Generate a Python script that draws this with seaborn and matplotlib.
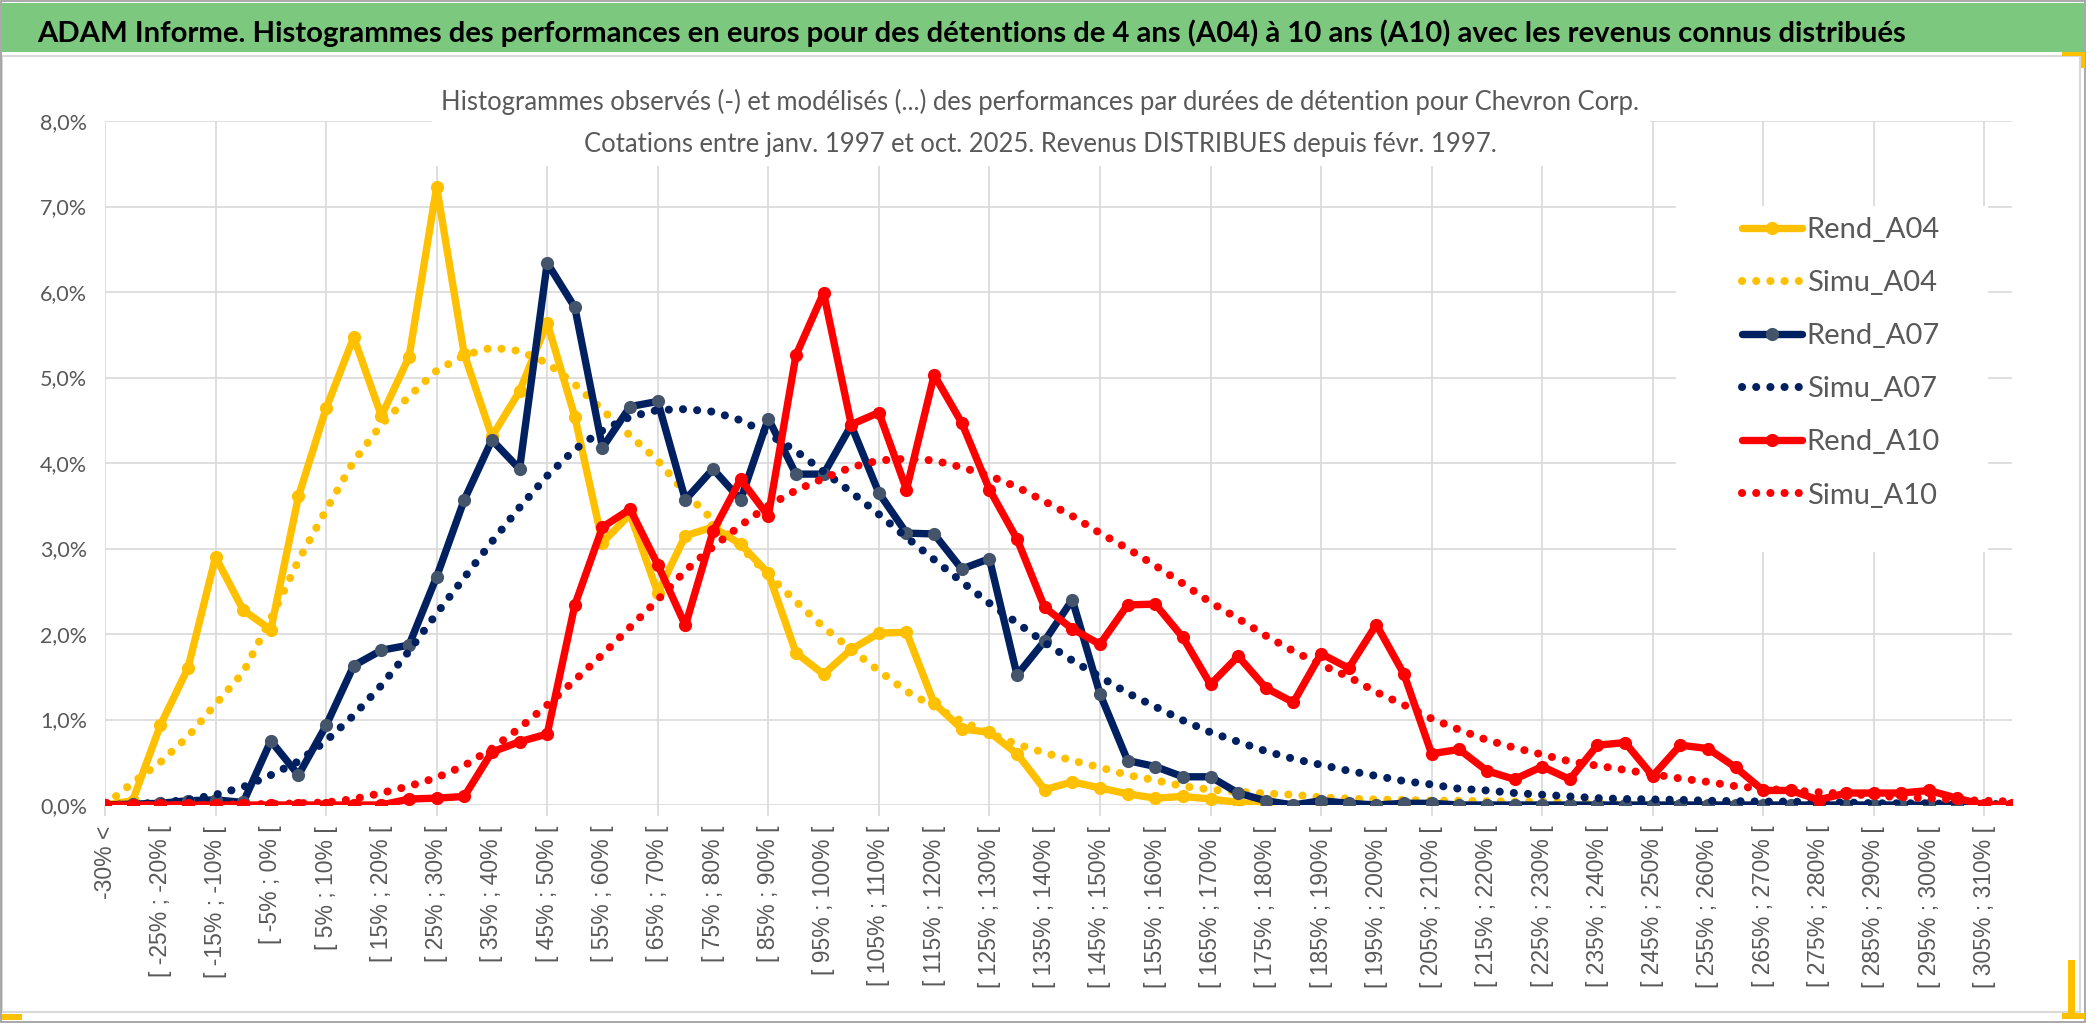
import numpy as np
import pandas as pd
import seaborn as sns
import matplotlib.pyplot as plt
from matplotlib import font_manager
from matplotlib.patches import Rectangle
from matplotlib.ticker import FuncFormatter

W, H = 2086, 1033
NAN = np.nan

# classes of performance (5% wide), first and last are open classes
lower_bounds = list(range(-30, 310, 5))
categories = ['-30% <'] + [f'[ {a}% ; {a + 5}% [' for a in lower_bounds] + ['> 310%']

rend_a04 = [0.0, 0.05, 0.93, 1.60, 2.90, 2.28, 2.05, 3.61, 4.64, 5.47,
            4.55, 5.24, 7.23, 5.27, 4.31, 4.84, 5.64, 4.54, 3.07, 3.40,
            2.48, 3.15, 3.25, 3.05, 2.71, 1.78, 1.53, 1.82, 2.01, 2.02,
            1.19, 0.89, 0.85, 0.60, 0.18, 0.27, 0.20, 0.13, 0.08, 0.10,
            0.07, 0.03, 0.0, 0.0, 0.0, 0.0, 0.0, 0.0, 0.0]
simu_a04 = [0.0, 0.26, 0.50, 0.80, 1.18, 1.55, 2.18, 2.86, 3.45, 4.02,
            4.45, 4.78, 5.08, 5.26, 5.35, 5.31, 5.17, 4.92, 4.62, 4.32,
            4.03, 3.65, 3.33, 3.02, 2.69, 2.38, 2.08, 1.82, 1.57, 1.33,
            1.15, 0.98, 0.84, 0.71, 0.61, 0.52, 0.44, 0.35, 0.29, 0.22,
            0.18, 0.155, 0.135, 0.12, 0.09, 0.075, 0.065, 0.06, 0.05, 0.05,
            0.045, 0.04, 0.04, 0.035, 0.03, 0.03, 0.025, 0.02, 0.02, 0.02,
            0.015, 0.015, 0.01, 0.01, 0.01, 0.01, 0.01, 0.01, 0.01, 0.01]
rend_a07 = [0.0, 0.01, 0.02, 0.05, 0.06, 0.03, 0.75, 0.35, 0.93, 1.63,
            1.81, 1.87, 2.67, 3.57, 4.27, 3.93, 6.34, 5.82, 4.18, 4.66,
            4.72, 3.57, 3.93, 3.57, 4.52, 3.87, 3.87, 4.44, 3.65, 3.18,
            3.17, 2.76, 2.88, 1.52, 1.92, 2.40, 1.30, 0.52, 0.45, 0.33,
            0.33, 0.14, 0.05, 0.0, 0.05, 0.02, 0.0, 0.02, 0.02, 0.0,
            0.0, 0.0, 0.0, 0.0, 0.0, 0.0, 0.0, 0.0, 0.0, 0.0,
            0.0, 0.0, 0.0, 0.0, 0.0, 0.0, 0.0, 0.0]
simu_a07 = [0.0, 0.01, 0.03, 0.06, 0.12, 0.21, 0.35, 0.51, 0.75, 1.05,
            1.40, 1.80, 2.24, 2.66, 3.08, 3.48, 3.85, 4.16, 4.38, 4.54,
            4.62, 4.63, 4.60, 4.50, 4.34, 4.14, 3.90, 3.66, 3.40, 3.13,
            2.87, 2.61, 2.36, 2.13, 1.90, 1.69, 1.50, 1.31, 1.15, 0.99,
            0.85, 0.74, 0.63, 0.54, 0.47, 0.40, 0.34, 0.28, 0.24, 0.19,
            0.17, 0.14, 0.12, 0.10, 0.08, 0.07, 0.065, 0.06, 0.05, 0.045,
            0.04, 0.04, 0.03, 0.03, 0.02, 0.02, 0.02, 0.01, 0.01, 0.01]
rend_a10 = [0.0, 0.0, 0.0, 0.0, 0.0, 0.0, 0.0, 0.0, 0.0, 0.0,
            0.0, 0.07, 0.08, 0.10, 0.62, 0.74, 0.83, 2.34, 3.25, 3.46,
            2.81, 2.10, 3.20, 3.81, 3.38, 5.26, 5.99, 4.45, 4.59, 3.69,
            5.03, 4.47, 3.69, 3.11, 2.31, 2.06, 1.88, 2.34, 2.35, 1.96,
            1.41, 1.74, 1.37, 1.20, 1.77, 1.60, 2.11, 1.53, 0.60, 0.65,
            0.40, 0.30, 0.45, 0.30, 0.70, 0.73, 0.34, 0.70, 0.66, 0.44,
            0.17, 0.17, 0.06, 0.14, 0.14, 0.14, 0.17, 0.08, 0.0, 0.0]
simu_a10 = [0.0, 0.0, 0.0, 0.0, 0.0, 0.01, 0.01, 0.02, 0.03, 0.07,
            0.14, 0.22, 0.32, 0.46, 0.66, 0.90, 1.17, 1.46, 1.76, 2.08,
            2.40, 2.74, 3.02, 3.27, 3.50, 3.68, 3.82, 3.95, 4.03, 4.05,
            4.03, 3.95, 3.85, 3.72, 3.55, 3.38, 3.18, 3.00, 2.80, 2.59,
            2.37, 2.18, 1.98, 1.80, 1.64, 1.50, 1.32, 1.17, 1.01, 0.88,
            0.76, 0.67, 0.59, 0.51, 0.46, 0.41, 0.36, 0.31, 0.27, 0.22,
            0.19, 0.17, 0.15, 0.13, 0.11, 0.09, 0.08, 0.06, 0.05, 0.04]

series = {
    'Rend_A04': rend_a04, 'Simu_A04': simu_a04,
    'Rend_A07': rend_a07, 'Simu_A07': simu_a07,
    'Rend_A10': rend_a10, 'Simu_A10': simu_a10,
}
n = len(categories)
df = pd.DataFrame({k: v + [NAN] * (n - len(v)) for k, v in series.items()})
df['pos'] = np.arange(n)

YELLOW, NAVY, RED, SLATE = '#FFC000', '#002060', '#FF0000', '#44546A'
GREY_TXT, GRID = '#595959', '#D9D9D9'
styles = {
    'Rend_A04': dict(color=YELLOW, mk=YELLOW, solid=True),
    'Simu_A04': dict(color=YELLOW, solid=False),
    'Rend_A07': dict(color=NAVY, mk=SLATE, solid=True),
    'Simu_A07': dict(color=NAVY, solid=False),
    'Rend_A10': dict(color=RED, mk=RED, solid=True),
    'Simu_A10': dict(color=RED, solid=False),
}

sns.set_style('white')
installed = {f.name for f in font_manager.fontManager.ttflist}
narrow = 'Liberation Sans Narrow' if 'Liberation Sans Narrow' in installed else 'Lato'
plt.rcParams['font.family'] = [narrow, 'DejaVu Sans']

fig = plt.figure(figsize=(W / 100, H / 100), dpi=100)
ax = fig.add_axes([105 / W, 1 - 805 / H, 1907 / W, 684 / H])

for name, st in styles.items():
    if st['solid']:
        sns.lineplot(data=df, x='pos', y=name, ax=ax, color=st['color'], lw=5.3,
                     marker='o', markersize=9.5, markerfacecolor=st['mk'],
                     markeredgecolor=st['mk'], markeredgewidth=0,
                     label=name, errorbar=None, zorder=3)
    else:
        sns.lineplot(data=df, x='pos', y=name, ax=ax, color=st['color'], lw=5.8,
                     linestyle=(0, (0.01, 1.75)), dash_capstyle='round',
                     label=name, errorbar=None, zorder=3)

ax.set_xlim(0, n - 1)
ax.set_ylim(0, 8)
ax.set_xlabel('')
ax.set_ylabel('')
for s in ax.spines.values():
    s.set_visible(False)

ax.set_axisbelow(True)
ax.set_yticks(range(0, 9))
ax.yaxis.set_major_formatter(FuncFormatter(lambda v, p: f'{v:.1f}%'.replace('.', ',')))
ax.tick_params(axis='y', length=0, pad=13, labelsize=15.5, labelcolor=GREY_TXT)
ax.yaxis.grid(True, color=GRID, lw=1.2)

ax.set_xticks(range(0, n, 2))
ax.set_xticklabels(categories[::2], rotation=90, fontfamily='Liberation Sans',
                   fontsize=16.5, color=GREY_TXT)
ax.set_xticks(range(0, n - 1, 4), minor=True)
ax.xaxis.remove_overlapping_locs = False
ax.tick_params(axis='x', which='major', length=0, pad=15)
ax.tick_params(axis='x', which='minor', bottom=True, length=8, color=GRID, width=1.2)
ax.grid(axis='x', which='minor', color=GRID, lw=1.2)

# white boxes behind subtitle and legend hide the grid
for x0, y0, x1, y1 in [(432, 60, 1650, 166), (1676, 206, 1988, 552)]:
    ax.add_patch(Rectangle((x0 / W, 1 - y1 / H), (x1 - x0) / W, (y1 - y0) / H,
                           transform=fig.transFigure, fc='white', ec='none',
                           zorder=1, clip_on=False))

leg = ax.legend(loc='upper left', bbox_to_anchor=(1742 / W, 1 - 217 / H),
                bbox_transform=fig.transFigure, frameon=False, fontsize=21,
                handlelength=2.05, handletextpad=0.17, labelspacing=0.93,
                borderpad=0, borderaxespad=0, labelcolor=GREY_TXT, numpoints=1)

# frame, title band and corner marks
fig.add_artist(Rectangle((2 / W, 1 - 52 / H), 2082 / W, 49 / H, transform=fig.transFigure,
                         fc='#7DC87F', ec='none'))
fig.add_artist(Rectangle((2 / W, 1 - 1012 / H), 2078 / W, 956 / H, transform=fig.transFigure,
                         fc='none', ec=GRID, lw=1.5))
fig.add_artist(Rectangle((1 / W, 1 - 1022 / H), 2084 / W, 1021 / H, transform=fig.transFigure,
                         fc='none', ec='#9A9A9A', lw=1.2))
for x0, y0, w, h in [(2, 1014, 20, 6), (2062, 52, 23, 4), (2081, 52, 4, 16),
                     (2068, 960, 7, 58), (2062, 1013, 23, 6)]:
    fig.add_artist(Rectangle((x0 / W, 1 - (y0 + h) / H), w / W, h / H,
                             transform=fig.transFigure, fc=YELLOW, ec='none'))

title = fig.text(37 / W, 1 - 42 / H,
                 'ADAM Informe. Histogrammes des performances en euros pour des détentions '
                 'de 4 ans (A04) à 10 ans (A10) avec les revenus connus distribués',
                 ha='left', va='baseline', fontsize=24, fontweight='bold', color='black')
sub1 = fig.text(1040 / W, 1 - 110 / H,
                'Histogrammes observés (-) et modélisés (...) des performances par durées '
                'de détention pour Chevron Corp.',
                ha='center', va='baseline', fontsize=20, color=GREY_TXT)
sub2 = fig.text(1040 / W, 1 - 152 / H,
                'Cotations entre janv. 1997 et oct. 2025. Revenus DISTRIBUES depuis févr. 1997.',
                ha='center', va='baseline', fontsize=20, color=GREY_TXT)

# scale the header texts to the widths seen in the reference
fig.canvas.draw()
rend = fig.canvas.get_renderer()
title.set_fontsize(title.get_fontsize() * 1868 / title.get_window_extent(rend).width)
k = 1199 / sub1.get_window_extent(rend).width
sub1.set_fontsize(sub1.get_fontsize() * k)
sub2.set_fontsize(sub2.get_fontsize() * k)

fig.savefig('out.png', dpi=100)
plt.close()
